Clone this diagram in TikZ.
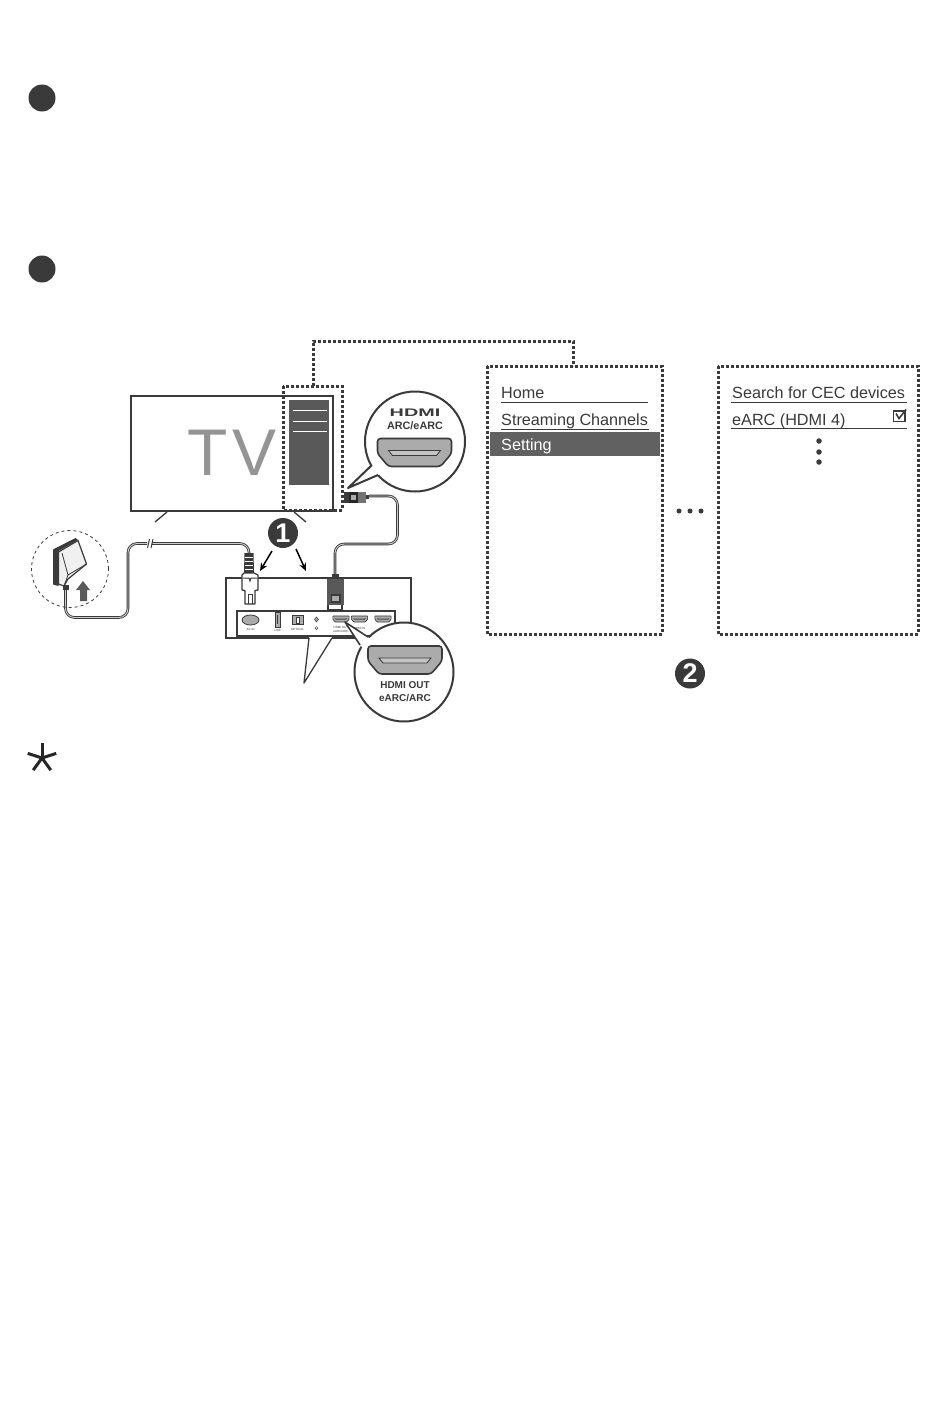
\documentclass[tikz,border=0pt]{standalone}
\usepackage{fontspec}
\setmainfont{Liberation Sans}
\usetikzlibrary{arrows.meta}
\definecolor{ink}{HTML}{3A3A3A}
\definecolor{panelgrey}{HTML}{595959}
\definecolor{tvgrey}{HTML}{949494}
\definecolor{portgrey}{HTML}{ABABAB}
\tikzset{
  dashbox/.style={draw=ink,line width=3pt,dash pattern=on 3pt off 2pt},
  thinline/.style={draw=ink,line width=1.3pt},
  menuline/.style={draw=ink,line width=.8pt},
  menutext/.style={anchor=base west,inner sep=0pt,text=ink,font=\fontsize{16.2}{18}\selectfont},
  bullet/.style={circle,fill=ink,inner sep=0pt,minimum size=27pt},
  numbered/.style={circle,fill=ink,inner sep=0pt,minimum size=30pt,text=white,font=\fontsize{27}{28}\selectfont\bfseries},
  callout/.style={circle,draw=ink,fill=white,line width=2pt,inner sep=0pt,minimum size=99pt},
  dotmark/.style={circle,fill=ink,inner sep=0pt,minimum size=5pt},
  boldlabel/.style={inner sep=0pt,text=ink,font=\fontsize{10}{12}\selectfont\bfseries},
  tiny/.style={inner sep=0pt,text=ink,font=\fontsize{3}{3.6}\selectfont},
  arrowline/.style={draw=black,line width=1.5pt,-{Stealth[length=8pt,width=7pt]}},
}
\newcommand{\cablepath}[1]{\draw[ink,line width=2.6pt,rounded corners=9pt] #1; \draw[portgrey!60!white,line width=.9pt,rounded corners=9pt] #1;}
% x, y, scale, line width
\newcommand{\hdmiport}[4]{%
  \begin{scope}[shift={(#1,#2)},scale=#3]
    \draw[draw=ink,fill=portgrey,line width=#4,rounded corners=3*#3 pt]
      (-37,-14) -- (37,-14) -- (37,1) -- (26,14) -- (-26,14) -- (-37,1) -- cycle;
    \draw[draw=ink,fill=portgrey!70!white,line width=.5*#4]
      (-26,-2) -- (26,-2) -- (22,3) -- (-22,3) -- cycle;
  \end{scope}}
\begin{document}
\begin{tikzpicture}[x=1pt,y=-1pt]
\useasboundingbox (0,0) rectangle (950,1408);
\fill[white] (0,0) rectangle (950,1408);

% bullets and asterisk
\node[bullet] (b1) at (42,98) {};
\node[bullet] (b2) at (42,269) {};
\coordinate (ast) at (42,758);
\foreach \a in {90,162,234,306,18}
  \draw[black!85,line width=3pt] (ast) -- ++(\a:15 and -15);

% TV
\draw[thinline] (131,396) rectangle (333,511);
\node[inner sep=0pt,text=tvgrey,font=\fontsize{66}{70}\selectfont] (tv) at (232,453) {T\kern5pt V};
\draw[thinline] (155,522) -- (167,512);
\draw[thinline] (294,512) -- (306,522);
\fill[panelgrey] (289,400) rectangle (329,485);
\foreach \y in {410,421,431}
  \draw[white,line width=.8pt] (293,\y) -- (327,\y);

% dashed selection boxes
\coordinate (sel) at (313,386);
\coordinate (men) at (573,366);
\draw[dashbox] (283,386) rectangle (342,510);
\draw[dashbox] (sel) -- (313,341) -- (573,341) -- (men);
\draw[dashbox] (487,366) rectangle (662,634);
\draw[dashbox] (718,366) rectangle (918,634);

% menu 1
\node[menutext] (m1) at (501,398) {Home};
\draw[menuline] (501,402) -- (648,402);
\node[menutext] (m2) at (501,425) {Streaming Channels};
\draw[menuline] (501,429) -- (649,429);
\fill[panelgrey!95!white] (490,432) rectangle (660,456);
\node[menutext,text=white] (m3) at (501,450) {Setting};

% menu 2
\node[menutext] (n1) at (732,398) {Search for CEC devices};
\draw[menuline] (731,402) -- (907,402);
\node[menutext] (n2) at (732,425) {eARC (HDMI 4)};
\draw[menuline] (731,428) -- (907,428);
\draw[ink,line width=1.2pt] (893.5,411) rectangle (905,421.5);
\draw[ink,line width=1.6pt] (896,413.5) -- (899,418.5) -- (906,409.5);
\node[dotmark,minimum size=5.5pt] (v1) at (819,441) {};
\node[dotmark,minimum size=5.5pt] (v2) at (819,452) {};
\node[dotmark,minimum size=5.5pt] (v3) at (819,462) {};
\node[dotmark] (h1) at (679,511) {};
\node[dotmark] (h2) at (690,511) {};
\node[dotmark] (h3) at (701,511) {};

% HDMI cable
\cablepath{(369,496) -- (397.5,496) -- (397.5,544) -- (335,544) -- (335,575)}

% HDMI plug at TV
\fill[ink] (344,492) rectangle (349,503);
\fill[black!85] (349,492) rectangle (358,503);
\fill[portgrey] (351,495) rectangle (356,500);
\fill[black!55] (358,492) rectangle (366,503);
\fill[ink] (366,494.5) rectangle (369,498.5);

% callout 1
\node[callout,minimum size=100pt] (c1) at (415,441.5) {};
\coordinate (c1a) at (372,465);
\coordinate (c1b) at (378,475);
\coordinate (c1t) at (348,488);
\fill[white] (c1a) ++(6,-4) -- (c1a) -- (c1t) -- (c1b) -- ++(6,-4) -- cycle;
\draw[ink,line width=2pt,line join=round] (c1a) -- (c1t) -- (c1b);
\node[inner sep=0pt,text=ink,font=\fontsize{11}{12}\selectfont\bfseries,xscale=1.8] (hlogo) at (415,413) {HDMI};
\node[boldlabel,font=\fontsize{10.8}{12}\selectfont\bfseries] (arc1) at (415,426) {ARC/eARC};
\hdmiport{414.5}{452.5}{1}{1.6pt}

% bar rear: box with wedge gap
\draw[thinline] (309,638) -- (226,638) -- (226,578) -- (411,578) -- (411,640);
\draw[thinline] (411,638) -- (332,638);
\draw[thinline,line join=round] (309,638) -- (304,683) -- (332,638);
\draw[draw=ink,line width=1.3pt,fill=white] (237,611) rectangle (395,636);

% ports
\draw[ink,fill=portgrey,line width=.8pt] (250.5,620) ellipse (8.5 and 5);
\node[tiny] (p1) at (250.5,629) {AC IN};
\draw[ink,fill=portgrey,line width=.8pt] (275,612) rectangle (280,627);
\fill[ink] (276.6,615) rectangle (278.4,624);
\node[tiny] (p2) at (277.5,630) {USB};
\draw[ink,fill=portgrey,line width=.8pt] (292,615) rectangle (303,624);
\draw[ink,fill=white,line width=.6pt] (296,617) rectangle (299,623);
\node[tiny] (p3) at (297.5,629) {OPTICAL};
\draw[ink,fill=portgrey,line width=.5pt] (316.5,617) -- (318.5,619.5) -- (316.5,622) -- (314.5,619.5) -- cycle;
\draw[ink,line width=.5pt] (316.5,628) circle (1.4);
\hdmiport{341}{619}{.22}{.7pt}
\hdmiport{359.5}{619}{.22}{.7pt}
\hdmiport{383}{619}{.22}{.7pt}
\node[tiny,align=center] (p4) at (341,629.5) {HDMI OUT\\eARC/ARC};
\node[tiny] (p5) at (359.5,628) {HDMI IN};

% power cable
\coordinate (wall) at (65.5,588);
\coordinate (iec) at (249,556);
\cablepath{(wall) -- (65.5,617.5) -- (128,617.5) -- (128,543.5) -- (147,543.5)}
\cablepath{(152,543.5) -- (249,543.5) -- (iec)}
\draw[ink,line width=1pt] (147.5,548) -- (149.5,539);
\draw[ink,line width=1pt] (151,548) -- (153,539);

% IEC plug
\fill[ink] (244.5,553) -- (253.5,553) -- (254,573) -- (244,573) -- cycle;
\foreach \y in {557,561,565,569}
  \draw[white,line width=.8pt] (245,\y) -- (253,\y);
\draw[thinline,fill=white,line join=round] (244,573) -- (254,573) -- (258,575) -- (258,590) -- (255,590.5) -- (255,604) -- (245,604) -- (245,590.5) -- (242,590) -- (242,575) -- cycle;
\draw[ink,line width=1pt] (243,578) -- (249,578) -- (250,581) -- (251,578) -- (257,578);
\draw[ink,line width=1pt] (248,604) -- (248,594) -- (252,594) -- (252,604);

% HDMI plug at bar
\fill[ink] (332,574) rectangle (339,580);
\draw[thinline,fill=white] (328,604) rectangle (342,610);
\fill[panelgrey] (327,579) rectangle (344,605);
\draw[ink,fill=portgrey,line width=1.5pt] (331.5,595) rectangle (340,602);

% arrows from step 1
\node[numbered] (s1) at (283,533) {1};
\coordinate (a1) at (260,571);
\coordinate (a2) at (306,571);
\draw[arrowline] (272,551) -- (a1);
\draw[arrowline] (296,549) -- (a2);
\node[numbered] (s2) at (690,673.5) {2};

% callout 2
\node[callout] (c2) at (404,672) {};
\coordinate (c2a) at (360,645);
\coordinate (c2b) at (368,637);
\coordinate (c2t) at (345,622);
\fill[white] (c2a) ++(6,6) -- (c2a) -- (c2t) -- (c2b) -- ++(6,6) -- cycle;
\draw[ink,line width=1.6pt,line join=round] (c2a) -- (c2t) -- (c2b);
\hdmiport{405}{660}{1}{1.6pt}
\node[boldlabel] (h3a) at (405,685) {HDMI OUT};
\node[boldlabel] (h3b) at (405,698) {eARC/ARC};

% wall plug
\node[circle,draw=ink,dashed,line width=.8pt,inner sep=0pt,minimum size=77pt] (wc) at (70,569) {};
\fill[ink] (53,549.5) -- (75.5,538) -- (78,540) -- (58.5,551) -- (58.5,586) -- (53,584.5) -- cycle;
\draw[ink,fill=black!6,line width=1.2pt,line join=round] (58.5,552) -- (78,540.5) -- (86.5,564) -- (68,579) -- (64,586) -- (58.5,584) -- cycle;
\draw[ink,line width=.8pt,line join=round] (62,553) -- (68,575) -- (86.5,564);
\draw[ink,line width=.8pt] (68,575) -- (64,586);
\fill[ink] (63,585) rectangle (68.5,590);
\fill[black!65] (80,590) -- (76,590) -- (83,581) -- (90,590) -- (87,590) -- (87,601) -- (80,601) -- cycle;
\end{tikzpicture}
\end{document}
